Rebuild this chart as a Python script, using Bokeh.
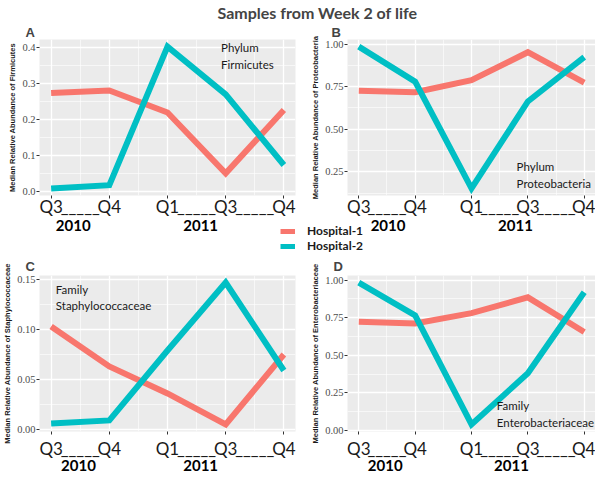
from bokeh.plotting import figure
from bokeh.models import (FixedTicker, PrintfTickFormatter, LinearAxis, Range1d, Label,
                          Legend, LegendItem, GridBox, Spacer)
from bokeh.embed import file_html
from bokeh.resources import INLINE

# ---------------- data ----------------
quarters = ["Q3", "Q4", "Q1", "Q3", "Q4"]
sample_x = [1, 2, 3, 4, 5]
connectors = ["_____", "_____", "_____"]
connector_x = [1.5, 3.5, 4.5]
years = ["2010", "2011"]
hospitals = ["Hospital-1", "Hospital-2"]

firmicutes_h1 = [0.274, 0.281, 0.220, 0.051, 0.227]
firmicutes_h2 = [0.009, 0.018, 0.403, 0.270, 0.074]
proteo_h1 = [0.726, 0.717, 0.788, 0.952, 0.773]
proteo_h2 = [0.985, 0.779, 0.153, 0.663, 0.923]
staph_h1 = [0.103, 0.063, 0.036, 0.005, 0.075]
staph_h2 = [0.006, 0.009, 0.079, 0.147, 0.059]
entero_h1 = [0.722, 0.711, 0.780, 0.885, 0.654]
entero_h2 = [0.983, 0.765, 0.040, 0.380, 0.919]

firm_ticks = [0.0, 0.1, 0.2, 0.3, 0.4]
proteo_ticks = [0.25, 0.50, 0.75, 1.00]
staph_ticks = [0.00, 0.05, 0.10, 0.15]
entero_ticks = [0.00, 0.25, 0.50, 0.75, 1.00]

RED = "#F8766D"
TEAL = "#00BFC4"


def make_panel(letter, ylabel, h1, h2, yticks, fmt, note, note_x, note_y, year_x,
               left, right, fw, top, fh, bottom, q_off, yr_off, letter_off, letter_standoff):
    lo = min(h1 + h2)
    hi = max(h1 + h2)
    pad = 0.05 * (hi - lo)
    p = figure(frame_width=fw, frame_height=fh, min_border_left=left, min_border_right=right,
               min_border_top=top, min_border_bottom=bottom,
               x_range=Range1d(0.8, 5.2), y_range=Range1d(lo - pad, hi + pad),
               output_backend="svg", toolbar_location=None, title=letter,
               background_fill_color="#EBEBEB", outline_line_color=None)
    p.title.text_font = "Liberation Sans"
    p.title.text_font_size = "13px"
    p.title.text_font_style = "bold"
    p.title.align = "left"
    p.title.offset = letter_off
    p.title.standoff = letter_standoff

    # grid
    xminor = [(a + b) / 2 for a, b in zip(sample_x, sample_x[1:])]
    step = yticks[1] - yticks[0]
    yminor = [t + step / 2 for t in [yticks[0] - step] + yticks]
    p.xgrid.ticker = FixedTicker(ticks=sample_x, minor_ticks=xminor)
    p.ygrid.ticker = FixedTicker(ticks=yticks, minor_ticks=yminor)
    for g in (p.xgrid, p.ygrid):
        g.grid_line_color = "white"
        g.grid_line_width = 1.3
        g.minor_grid_line_color = "white"
        g.minor_grid_line_width = 0.6

    # quarter axis (labels at samples and connector dashes; small ticks at samples)
    xa = p.xaxis[0]
    xa.ticker = FixedTicker(ticks=sorted(sample_x + connector_x), minor_ticks=sample_x)
    ov = {float(x): q for x, q in zip(sample_x, quarters)}
    ov.update({float(x): c for x, c in zip(connector_x, connectors)})
    xa.major_label_overrides = ov
    xa.axis_line_color = None
    xa.major_tick_line_color = None
    xa.major_tick_out = 0
    xa.major_tick_in = 0
    xa.minor_tick_line_color = "#333333"
    xa.minor_tick_out = 3
    xa.minor_tick_in = 0
    xa.major_label_standoff = q_off
    xa.major_label_text_font = "Lato"
    xa.major_label_text_font_size = "17px"
    xa.major_label_text_color = "#1a1a1a"

    # year axis
    ya = LinearAxis(ticker=FixedTicker(ticks=year_x),
                    major_label_overrides={float(x): y for x, y in zip(year_x, years)},
                    axis_line_color=None, major_tick_line_color=None, minor_tick_line_color=None,
                    major_tick_out=0, major_tick_in=0,
                    major_label_standoff=yr_off, major_label_text_font="Lato",
                    major_label_text_font_style="bold", major_label_text_font_size="15px",
                    major_label_text_color="#000000")
    p.add_layout(ya, "below")

    # y axis
    yax = p.yaxis[0]
    yax.ticker = FixedTicker(ticks=yticks)
    yax.formatter = PrintfTickFormatter(format=fmt)
    yax.axis_line_color = None
    yax.major_tick_out = 3
    yax.major_tick_in = 0
    yax.major_tick_line_color = "#333333"
    yax.minor_tick_line_color = None
    yax.major_label_standoff = 1
    yax.major_label_text_font = "Liberation Sans Narrow"
    yax.major_label_text_font_size = "10.5px"
    yax.major_label_text_color = "#4D4D4D"
    yax.axis_label = ylabel
    yax.axis_label_standoff = 2
    yax.axis_label_text_font = "Liberation Sans"
    yax.axis_label_text_font_size = "7.5px"
    yax.axis_label_text_font_style = "bold"
    yax.axis_label_text_color = "#1a1a1a"

    p.line(sample_x, h1, line_color=RED, line_width=6, line_join="miter")
    p.line(sample_x, h2, line_color=TEAL, line_width=6, line_join="miter")

    p.add_layout(Label(x=note_x, y=note_y, text=note, text_font="Lato", text_font_size="11.5px",
                       text_color="#1a1a1a", text_baseline="top", text_align="left",
                       text_line_height=1.3))
    return p


pA = make_panel("A", "Median Relative Abundance of Firmicutes", firmicutes_h1, firmicutes_h2,
                firm_ticks, "%.1f", "Phylum\nFirmicutes", 3.92, 0.418, [1.38, 3.57],
                28, 8, 256, 23, 156, 37, -3, 0, -14, 0)
pB = make_panel("B", "Median Relative Abundance of Proteobacteria", proteo_h1, proteo_h2,
                proteo_ticks, "%.2f", "Phylum\nProteobacteria", 3.8, 0.321, [1.52, 3.78],
                44, 0, 248, 23, 156, 37, -3, 0, -16, 0)
pC = make_panel("C", "Median Relative Abundance of Staphylococcaceae", staph_h1, staph_h2,
                staph_ticks, "%.2f", "Family\nStaphylococcaceae", 1.08, 0.147, [1.47, 3.57],
                28, 8, 256, 42, 156, 34, 3, -2, -14, 4)
pD = make_panel("D", "Median Relative Abundance of Enterobacteriaceae", entero_h1, entero_h2,
                entero_ticks, "%.2f", "Family\nEnterobacteriaceae", 3.45, 0.207, [1.47, 3.71],
                44, 0, 248, 42, 156, 34, 3, -2, -14, 4)

# overlay with main title and shared legend (its lines fall outside its own ranges)
ovl = figure(width=584, height=464, output_backend="svg", toolbar_location=None,
             x_axis_type=None, y_axis_type=None, min_border=0, outline_line_color=None,
             background_fill_alpha=0, border_fill_alpha=0,
             x_range=Range1d(-20, -10), y_range=Range1d(-20, -10),
             title="Samples from Week 2 of life")
ovl.title.text_font = "Lato"
ovl.title.text_font_size = "16px"
ovl.title.text_font_style = "bold"
ovl.title.align = "left"
ovl.title.offset = 178
ovl.title.standoff = 0
r1 = ovl.line(sample_x, firmicutes_h1, line_color=RED, line_width=5)
r2 = ovl.line(sample_x, firmicutes_h2, line_color=TEAL, line_width=5)
leg = Legend(items=[LegendItem(label=hospitals[0], renderers=[r1]),
                    LegendItem(label=hospitals[1], renderers=[r2])],
             location=(241, 169), glyph_width=15, glyph_height=12, label_height=12,
             label_standoff=12, spacing=0, padding=0, margin=0,
             border_line_color=None, background_fill_alpha=0,
             label_text_font="Lato", label_text_font_style="bold",
             label_text_font_size="12px", label_text_color="#1a1a1a")
ovl.add_layout(leg)

grid = GridBox(children=[(Spacer(width=584, height=16), 0, 0, 1, 2),
                         (pA, 1, 0), (pB, 1, 1), (pC, 2, 0), (pD, 2, 1),
                         (ovl, 0, 0, 3, 2)], spacing=0)

open("out.html", "w").write(file_html(grid, INLINE, title="Samples from Week 2 of life"))
